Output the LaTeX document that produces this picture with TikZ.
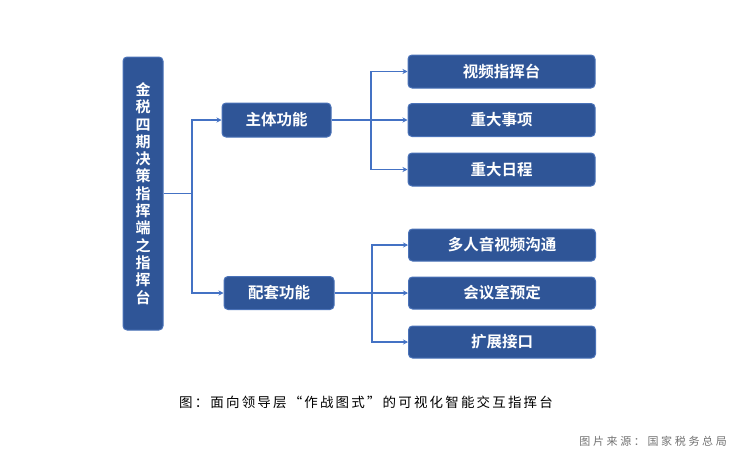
\documentclass[tikz,border=0pt]{standalone}
\usepackage{fontspec}
\newfontfamily\cjk{Noto Sans CJK SC}
\newfontfamily\cjkb{Noto Sans CJK SC Bold}
\newfontfamily\capfont[LetterSpace=16]{Noto Sans CJK SC}
\newfontfamily\credfont[LetterSpace=24]{Noto Sans CJK SC}
\usetikzlibrary{arrows.meta}
\definecolor{boxfill}{HTML}{2F5597}
\definecolor{boxline}{HTML}{4A72B8}
\definecolor{conn}{HTML}{4472C4}
\tikzset{
  box/.style={draw=boxline, line width=1pt, fill=boxfill, rounded corners=4pt,
    text=white, font=\cjkb\fontsize{15.5}{18}\selectfont, inner sep=0pt},
  link/.style={draw=conn, line width=1.5pt},
  arr/.style={link, -{Stealth[length=5pt,width=5pt]}},
}
\begin{document}
\begin{tikzpicture}[x=1pt,y=-1pt]
\useasboundingbox[fill=white] (0,0) rectangle (748,469);
\node[box, minimum width=40pt, minimum height=273pt, align=center,
  font=\cjkb\fontsize{15}{17.3}\selectfont] (L) at (143,193.5)
  {金\\税\\四\\期\\决\\策\\指\\挥\\端\\之\\指\\挥\\台};
\node[box, minimum width=109pt, minimum height=34pt] (A) at (276.5,120) {主体功能};
\node[box, minimum width=110pt, minimum height=33pt] (B) at (279,293) {配套功能};
\node[box, minimum width=187pt, minimum height=33pt] (A1) at (501.5,71.5) {视频指挥台};
\node[box, minimum width=187pt, minimum height=33pt] (A2) at (501.5,120) {重大事项};
\node[box, minimum width=187pt, minimum height=33pt] (A3) at (501.5,169.5) {重大日程};
\node[box, minimum width=187pt, minimum height=32pt] (B1) at (502,245) {多人音视频沟通};
\node[box, minimum width=187pt, minimum height=32pt] (B2) at (502,293) {会议室预定};
\node[box, minimum width=187pt, minimum height=32pt] (B3) at (502,342) {扩展接口};
\coordinate (j0) at (192,193.5);
\coordinate (j1) at (371,120);
\coordinate (j2) at (372,293);
\draw[link] (L.east) -- (j0);
\draw[arr] (j0) |- (A.west);
\draw[arr] (j0) |- (B.west);
\draw[link] (A.east) -- (j1);
\draw[arr] (j1) |- (A1.west);
\draw[arr] (j1) -- (A2.west);
\draw[arr] (j1) |- (A3.west);
\draw[link] (B.east) -- (j2);
\draw[arr] (j2) |- (B1.west);
\draw[arr] (j2) -- (B2.west);
\draw[arr] (j2) |- (B3.west);
\node[font=\capfont\fontsize{13.5}{16}\selectfont, text=black, inner sep=0pt] (cap) at (366,402)
  {图：面向领导层“作战图式”的可视化智能交互指挥台};
\node[font=\credfont\fontsize{11}{13}\selectfont, text=black!55, inner sep=0pt, anchor=east] (cred) at (727,441)
  {图片来源：国家税务总局};
\end{tikzpicture}
\end{document}
